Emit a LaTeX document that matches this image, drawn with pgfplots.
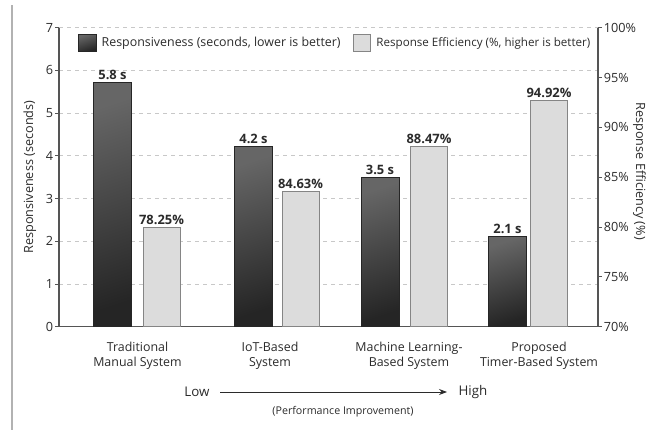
\documentclass[border=0pt]{standalone}
\usepackage{pgfplots}
\pgfplotsset{compat=1.18}
\usepackage{fontspec}
\setmainfont{Open Sans}
\usetikzlibrary{arrows.meta}
\definecolor{txt}{HTML}{2B2B2B}
\definecolor{gridc}{HTML}{C8C8C8}
\definecolor{axc}{HTML}{555555}
\definecolor{lightbar}{HTML}{DCDCDC}
\definecolor{lightedge}{HTML}{858585}
\definecolor{darkT}{HTML}{666666}
\definecolor{darkB}{HTML}{252525}

\begin{document}
\begin{tikzpicture}
\path[use as bounding box] (0,0) rectangle (487.5pt,-324pt);
\draw[black!30, line width=1.1pt] (9pt,-3.75pt) -- (9pt,-322.5pt);

\pgfplotsset{
  sq legend/.style={legend image code/.code={\draw[##1,line width=0.6pt] (0pt,-6.3pt) rectangle (13.3pt,6.3pt);}},
  darkbar/.style={ybar, bar shift=0pt, bar width=38, draw=black!85, top color=darkT, bottom color=darkB, shading angle=18, line width=0.6pt},
  common/.style={
    scale only axis, width=404.25pt, height=224.25pt,
    at={(44.25pt,-245pt)}, anchor=south west,
    xmin=59, xmax=598,
    /pgf/number format/assume math mode=true,
    tick label style={font=\fontsize{9.5}{10}\selectfont, text=txt},
    yticklabel style={inner sep=1.2pt},
    label style={font=\fontsize{9.5}{11}\selectfont, text=txt},
    axis line style={axc, line width=0.8pt},
    tick style={axc, line width=0.6pt},
    tick align=outside, major tick length=3pt,
    nodes near coords, point meta=explicit symbolic,
    nodes near coords style={anchor=south, font=\fontsize{9.7}{12}\selectfont\bfseries, text=txt, inner sep=1.8pt},
  }
}

\begin{axis}[common,
  ymin=0, ymax=7, ytick={0,...,7},
  axis y line*=left, axis x line*=bottom,
  xtick={137.5,270,409,539},
  xticklabels={Traditional\\Manual System, IoT-Based\\System, Machine Learning-\\Based System, Proposed\\Timer-Based System},
  xticklabel style={align=center, font=\fontsize{9.3}{11}\selectfont, yshift=-5pt},
  major x tick style={draw=none},
  ymajorgrids, grid style={gridc, dashed, line width=0.6pt},
  ylabel={Responsiveness (seconds)},
  ylabel style={at={(axis description cs:-0.054,0.5)}, anchor=center},
]
\addplot[darkbar] coordinates {(112.5,5.72) [5.8 s]};
\addplot[darkbar] coordinates {(253.5,4.22) [4.2 s]};
\addplot[darkbar] coordinates {(380,3.5) [3.5 s]};
\addplot[darkbar] coordinates {(507.5,2.12) [2.1 s]};
\end{axis}

\begin{axis}[common,
  ymin=70, ymax=100, ytick={70,75,...,100},
  yticklabel={\pgfmathprintnumber{\tick}\%},
  axis y line*=right, axis x line=none,
  ylabel={Response Efficiency (\%)},
  ylabel style={at={(axis description cs:1.077,0.52)}, anchor=center, rotate=180},
  legend style={at={(axis description cs:0.027,0.949)}, anchor=west, draw=none, fill=none,
    legend columns=2, font=\fontsize{9.3}{11}\selectfont, text=txt,
    /tikz/every odd column/.append style={column sep=2pt},
    /tikz/every even column/.append style={column sep=7pt}},
]
\addlegendimage{sq legend, draw=black!85, top color=darkT, bottom color=darkB, shading angle=18}
\addlegendentry{Responsiveness (seconds, lower is better)}
\addplot[ybar, bar shift=0pt, bar width=37, draw=lightedge, fill=lightbar, line width=0.6pt, sq legend]
  coordinates {(161.5,79.94) [78.25\%] (300.5,83.54) [84.63\%] (429,88.09) [88.47\%] (549,92.67) [94.92\%]};
\addlegendentry{\fontsize{8.7}{11}\selectfont Response Efficiency (\%, higher is better)}
\end{axis}

\begin{scope}[x=0.75pt, y=-0.75pt]
  \node[font=\fontsize{10}{12}\selectfont, text=txt] at (197,392) {Low};
  \draw[-{Stealth[length=6pt]}, line width=0.7pt, txt] (220,392) -- (447,392);
  \node[font=\fontsize{10}{12}\selectfont, text=txt] at (473,392) {High};
  \node[font=\fontsize{8}{10}\selectfont, text=txt] at (343,412) {(Performance Improvement)};
\end{scope}
\end{tikzpicture}
\end{document}
